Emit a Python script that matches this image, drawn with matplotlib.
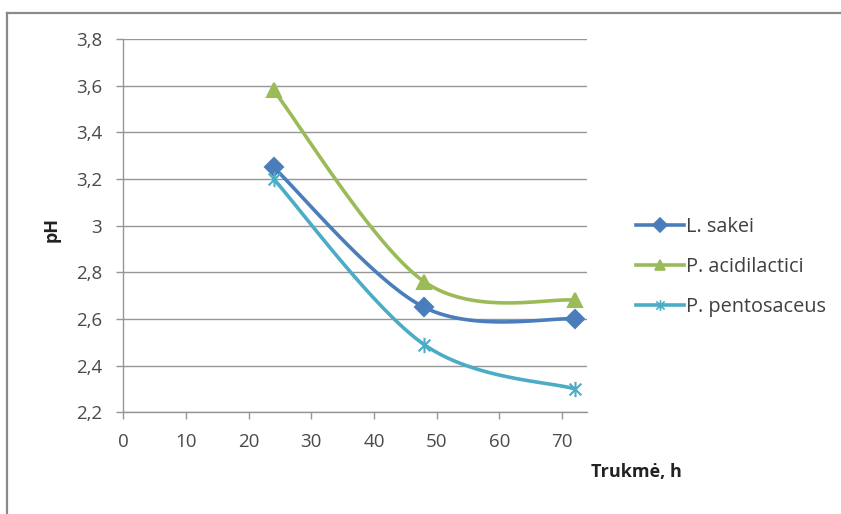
import numpy as np
import matplotlib
matplotlib.use("Agg")
import matplotlib.pyplot as plt
from matplotlib.path import Path
from matplotlib.lines import Line2D

plt.rcParams['font.family'] = ['Open Sans', 'DejaVu Sans']

# Duomenys
hours = [24, 48, 72]
sakei = [3.25, 2.65, 2.60]
acidilactici = [3.58, 2.76, 2.68]
pentosaceus = [3.20, 2.49, 2.30]
series_names = ["L. sakei", "P. acidilactici", "P. pentosaceus"]

x_ticks = [0, 10, 20, 30, 40, 50, 60, 70]
y_ticks = [2.2, 2.4, 2.6, 2.8, 3.0, 3.2, 3.4, 3.6, 3.8]

colors = ["#4A7EBB", "#9BBB59", "#4BACC6"]


def smooth(xs, ys, n=60):
    # Bezier smoothing like spreadsheet "smoothed line" (Catmull-Rom)
    p = np.column_stack([xs, ys]).astype(float)
    pts = np.vstack([p[0], p, p[-1]])
    out = []
    t = np.linspace(0, 1, n)[:, None]
    for i in range(1, len(pts) - 2):
        p0, p1 = pts[i], pts[i + 1]
        c1 = p0 + (pts[i + 1] - pts[i - 1]) / 6
        c2 = p1 - (pts[i + 2] - pts[i]) / 6
        seg = ((1 - t) ** 3 * p0 + 3 * (1 - t) ** 2 * t * c1
               + 3 * (1 - t) * t ** 2 * c2 + t ** 3 * p1)
        out.append(seg if i == 1 else seg[1:])
    out = np.vstack(out)
    return out[:, 0], out[:, 1]


# zvaigzdutes zymeklis: x su vertikalia linija
star = Path([(-1, -1), (1, 1), (-1, 1), (1, -1), (0, -1.3), (0, 1.3)],
            [Path.MOVETO, Path.LINETO, Path.MOVETO, Path.LINETO,
             Path.MOVETO, Path.LINETO])

fig = plt.figure(figsize=(8.41, 5.14), dpi=100)
ax = fig.add_axes([0.1463, 0.198, 0.552, 0.726])

markers = ['D', '^', star]
msizes = [9.5, 10, 11]
handles = []
for vals, name, c, m, ms in zip([sakei, acidilactici, pentosaceus],
                                series_names, colors, markers, msizes):
    sx, sy = smooth(hours, vals)
    ax.plot(sx, sy, color=c, lw=2.6, solid_capstyle='round', zorder=3)
    ax.plot(hours, vals, linestyle='none', marker=m, markersize=ms,
            color=c, markeredgecolor=c, markeredgewidth=1.5, zorder=4)
    handles.append(Line2D([], [], color=c, lw=2.6, marker=m,
                          markersize=ms * 0.7, markeredgewidth=1.2,
                          label=name))

ax.set_xlim(0, 74)
ax.set_ylim(2.2, 3.8)
ax.set_xticks(x_ticks)
ax.set_yticks(y_ticks)
ax.set_yticklabels([f"{v:g}".replace('.', ',') for v in y_ticks])
ax.grid(axis='y', color='#969696', lw=1)
ax.set_axisbelow(True)
for s in ['top', 'right']:
    ax.spines[s].set_visible(False)
for s in ['left', 'bottom']:
    ax.spines[s].set_color('#969696')
    ax.spines[s].set_linewidth(1)
ax.tick_params(colors='#969696', labelcolor='#4a4a4a', labelsize=13.5,
               length=5, width=1)
ax.tick_params(axis='x', pad=10)
ax.tick_params(axis='y', pad=10)

fig.text(0.0618, 0.553, "pH", rotation=90, fontsize=13, fontweight='bold',
         ha='center', va='center', color='#222222')
fig.text(0.757, 0.082, "Trukmė, h", fontsize=13, fontweight='bold',
         ha='center', va='center', color='#222222')

fig.legend(handles=handles, loc='center left', bbox_to_anchor=(0.7565, 0.4805),
           frameon=False, fontsize=14.3, handlelength=2.4, handletextpad=0.1,
           labelspacing=1.02, labelcolor='#404040', borderaxespad=0,
           borderpad=0)

# remelio linijos
fig.add_artist(Line2D([7 / 841, 1], [1 - 13 / 514, 1 - 13 / 514],
                      color='#8a8a8a', lw=1.6))
fig.add_artist(Line2D([7 / 841, 7 / 841], [0, 1 - 13 / 514],
                      color='#8a8a8a', lw=1.6))

fig.savefig("out.png", dpi=100)
